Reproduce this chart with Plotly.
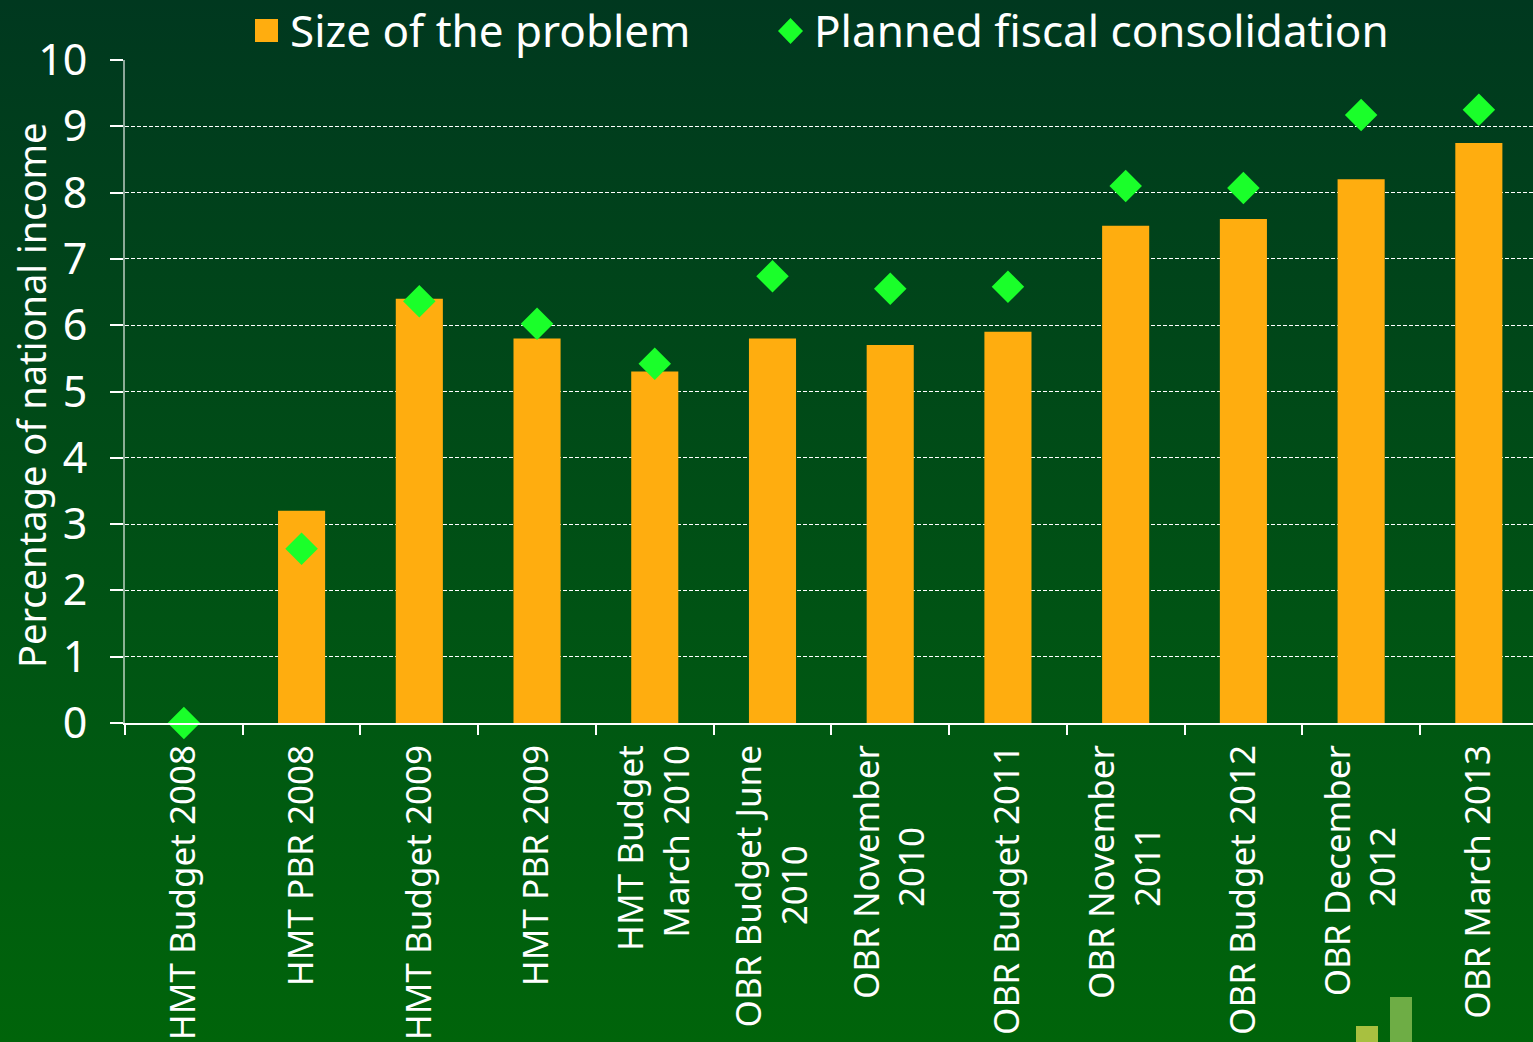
import base64
import plotly.graph_objects as go

NB = "\u00a0"
categories = [
    "HMT Budget 2008", "HMT PBR 2008", "HMT Budget 2009", "HMT PBR 2009",
    "HMT Budget<br>March 2010", "OBR Budget June<br>2010" + NB * 11, "OBR November<br>2010" + NB * 9,
    "OBR Budget 2011", "OBR November<br>2011" + NB * 9, "OBR Budget 2012",
    "OBR December<br>2012" + NB * 9, "OBR March 2013",
]
size_of_problem = [0, 3.2, 6.4, 5.8, 5.3, 5.8, 5.7, 5.9, 7.5, 7.6, 8.2, 8.75]
planned_consolidation = [0, 2.63, 6.36, 6.02, 5.42, 6.74, 6.55, 6.58, 8.1, 8.07, 9.17, 9.25]
y_ticks = [0, 1, 2, 3, 4, 5, 6, 7, 8, 9, 10]

W_FIG, H_FIG = 1533, 1042
L, R, T, B = 125, 0, 60, 319
PW, PH = W_FIG - L - R, H_FIG - T - B
FONT = "Noto Sans"
ORANGE = "#ffad0f"
GREEN = "#1aff2a"


def px(xp):
    return (xp - L) / PW


def py(yp):
    return (H_FIG - B - yp) / PH


fig = go.Figure()
fig.add_trace(go.Bar(x=categories, y=size_of_problem, width=0.4, marker_color=ORANGE,
                     marker_line_width=0, name="Size of the problem", showlegend=False))
fig.add_trace(go.Scatter(x=categories, y=planned_consolidation, mode="markers",
                         marker=dict(symbol="diamond", size=25, color=GREEN),
                         cliponaxis=False, name="Planned fiscal consolidation", showlegend=False))

svg = (
    f'<svg xmlns="http://www.w3.org/2000/svg" width="{W_FIG}" height="{H_FIG}" preserveAspectRatio="none">'
    '<defs><linearGradient id="g" x1="0" y1="0" x2="0" y2="1">'
    '<stop offset="0" stop-color="rgb(0,56,31)"/>'
    '<stop offset="0.7" stop-color="rgb(0,88,18)"/>'
    '<stop offset="1" stop-color="rgb(0,100,10)"/>'
    '</linearGradient></defs>'
    f'<rect x="0" y="0" width="{W_FIG}" height="{H_FIG}" fill="url(#g)"/></svg>'
)
src = "data:image/svg+xml;base64," + base64.b64encode(svg.encode()).decode()

shapes = [
    # legend symbols
    dict(type="rect", xref="paper", yref="paper", x0=px(255), x1=px(278), y0=py(42), y1=py(19),
         fillcolor=ORANGE, line_width=0),
    dict(type="path", xref="paper", yref="paper",
         path=(f"M {px(778)},{py(31)} L {px(790.5)},{py(18)} L {px(803)},{py(31)} "
               f"L {px(790.5)},{py(44)} Z"),
         fillcolor=GREEN, line_width=0),
    # logo decoration bottom right
    dict(type="rect", xref="paper", yref="paper", x0=px(1356), x1=px(1378), y0=py(1042), y1=py(1026),
         fillcolor="#a8c040", line_width=0, layer="below"),
    dict(type="rect", xref="paper", yref="paper", x0=px(1390), x1=px(1412), y0=py(1042), y1=py(997),
         fillcolor="#6ead45", line_width=0, layer="below"),
]

annotations = [
    dict(text="Size of the problem", xref="paper", yref="paper", x=px(288), y=py(30),
         xanchor="left", yanchor="middle", showarrow=False,
         font=dict(family=FONT, size=44, color="white")),
    dict(text="Planned fiscal consolidation", xref="paper", yref="paper", x=px(812), y=py(30),
         xanchor="left", yanchor="middle", showarrow=False,
         font=dict(family=FONT, size=44, color="white")),
    dict(text="Percentage of national income", xref="paper", yref="paper", x=px(31), y=py(396),
         xanchor="center", yanchor="middle", textangle=-90, showarrow=False,
         font=dict(family=FONT, size=38, color="white")),
]

fig.update_layout(
    width=W_FIG, height=H_FIG,
    margin=dict(l=L, r=R, t=T, b=B, pad=0),
    paper_bgcolor="rgb(0,72,25)",
    plot_bgcolor="rgba(0,0,0,0)",
    showlegend=False,
    bargap=0.6,
    images=[dict(source=src, xref="paper", yref="paper", x=px(0), y=py(0),
                 sizex=W_FIG / PW, sizey=H_FIG / PH, xanchor="left", yanchor="top",
                 sizing="stretch", layer="below")],
    shapes=shapes,
    annotations=annotations,
    xaxis=dict(
        type="category", categoryorder="array", categoryarray=categories,
        range=[-0.5, 11.46],
        tickangle=-90, tickson="boundaries", ticks="outside", ticklen=10, tickcolor="white",
        tickwidth=1.5, showline=True, linecolor="white", linewidth=2, showgrid=False,
        zeroline=False, ticklabelstandoff=6,
        tickfont=dict(family=FONT, size=35, color="white"),
    ),
    yaxis=dict(
        range=[0, 10], tickvals=y_ticks, ticks="outside", ticklen=13, tickcolor="white",
        tickwidth=1.5, showline=True, linecolor="rgba(255,255,255,0.55)", linewidth=2,
        showgrid=True, gridcolor="white", gridwidth=1, griddash="4px,2px", zeroline=False,
        ticklabelstandoff=14,
        tickfont=dict(family=FONT, size=43, color="white"),
    ),
)

fig.write_html("out.html")
